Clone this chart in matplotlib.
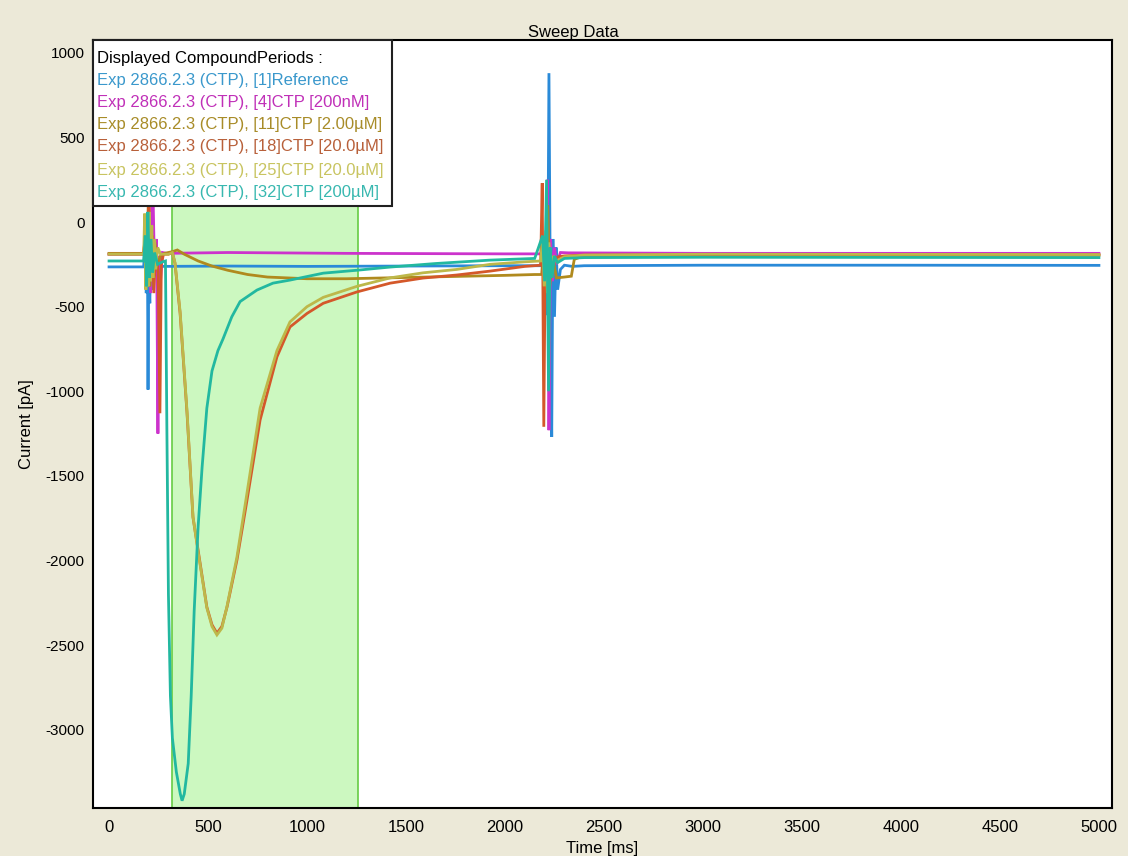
import matplotlib
matplotlib.use("Agg")
import matplotlib.pyplot as plt
from matplotlib.patches import Rectangle
from matplotlib import font_manager

# ---------------- data ----------------
title = "Sweep Data"
x_label = "Time [ms]"
y_label = "Current [pA]"
legend_header = "Displayed CompoundPeriods :"
series_names = [
    "Exp 2866.2.3 (CTP), [1]Reference",
    "Exp 2866.2.3 (CTP), [4]CTP [200nM]",
    "Exp 2866.2.3 (CTP), [11]CTP [2.00\u00b5M]",
    "Exp 2866.2.3 (CTP), [18]CTP [20.0\u00b5M]",
    "Exp 2866.2.3 (CTP), [25]CTP [20.0\u00b5M]",
    "Exp 2866.2.3 (CTP), [32]CTP [200\u00b5M]",
]
x_ticks = [0, 500, 1000, 1500, 2000, 2500, 3000, 3500, 4000, 4500, 5000]
y_ticks = [1000, 500, 0, -500, -1000, -1500, -2000, -2500, -3000]
window_start, window_end = 318, 1258   # highlighted compound period (ms)

t_ref = [0, 175, 182, 188, 194, 197, 200, 206, 212, 218, 224, 232, 240, 250, 262,
         600, 1000, 1500, 2000, 2180, 2192, 2200, 2208, 2215, 2222, 2230, 2236,
         2242, 2250, 2258, 2266, 2280, 2300, 2340, 2400, 3000, 4000, 5000]
i_ref = [-265, -265, -120, -420, -150, -990, -300, -480, -80, -400, -150, -320, -200, -280, -262,
         -260, -262, -260, -258, -258, -150, -420, -80, -550, 880, -620, -1270,
         -100, -560, -150, -400, -280, -255, -262, -258, -255, -255, -256]

t_mag = [0, 175, 185, 192, 200, 210, 220, 230, 240, 247, 252, 260, 270, 290,
         600, 1200, 2000, 2185, 2195, 2205, 2215, 2222, 2230, 2240, 2250, 2260,
         2280, 2320, 3000, 5000]
i_mag = [-190, -190, -60, -350, 150, -420, 300, -300, -100, -1250, -200, -350, -180, -185,
         -180, -185, -188, -188, -120, -300, 250, -1230, -100, -350, -150, -250,
         -180, -182, -185, -185]

t_oli = [0, 175, 184, 190, 198, 206, 214, 222, 232, 244, 260, 280, 320, 345, 380,
         450, 520, 600, 700, 800, 900, 1000, 1200, 1400, 1600, 1800, 2000, 2150,
         2185, 2196, 2206, 2216, 2226, 2240, 2260, 2300, 2335, 2350, 2400, 3000, 4000, 5000]
i_oli = [-185, -185, -60, -330, 100, -380, -50, -300, -120, -250, -200, -185, -175, -165, -190,
         -230, -260, -285, -310, -325, -330, -335, -335, -330, -325, -320, -315, -310,
         -310, -150, -420, 100, -380, -200, -330, -325, -320, -220, -200, -195, -195, -195]

t_red = [0, 175, 185, 193, 201, 210, 218, 226, 236, 248, 257, 264, 275, 300, 320, 333,
         359, 394, 424, 450, 494, 520, 545, 570, 596, 646, 697, 763, 848, 914, 1000,
         1082, 1252, 1420, 1586, 1756, 1924, 2100, 2180, 2188, 2196, 2204, 2214, 2224,
         2236, 2250, 2270, 2300, 2400, 3000, 5000]
i_red = [-190, -190, -40, -380, 200, -320, -80, -420, -150, -300, -1130, -250, -190, -190, -180, -243,
         -540, -1130, -1745, -1940, -2275, -2380, -2430, -2390, -2275, -1998, -1643, -1170, -797, -620, -540,
         -480, -413, -361, -331, -313, -290, -262, -255, 230, -1210, -100, -400, -150,
         -330, -220, -205, -200, -195, -195, -195]

t_kha = [0, 175, 180, 186, 192, 198, 204, 210, 216, 222, 228, 236, 246, 260, 300, 320, 333,
         359, 394, 424, 450, 494, 520, 545, 570, 596, 646, 697, 763, 848, 914, 1000,
         1082, 1252, 1420, 1586, 1756, 1924, 2100, 2180, 2190, 2198, 2206, 2214, 2222,
         2232, 2244, 2260, 2300, 2400, 3000, 5000]
i_kha = [-190, -190, 50, -400, 0, -380, 60, -350, -20, -330, -100, -280, -150, -190, -190, -180, -240,
         -530, -1120, -1740, -1950, -2280, -2390, -2440, -2400, -2270, -1980, -1600, -1100, -760, -590, -500,
         -445, -380, -330, -300, -280, -250, -235, -230, -100, -380, -50, -420, -120,
         -320, -200, -230, -205, -195, -190, -192]

t_tea = [0, 175, 183, 190, 196, 204, 212, 220, 230, 245, 270, 285, 292, 300, 310, 320, 340,
         360, 369, 380, 400, 415, 430, 450, 470, 494, 520, 550, 576, 620, 662, 747, 828,
         914, 1082, 1250, 1420, 1650, 1924, 2150, 2190, 2200, 2210, 2220, 2228, 2238,
         2250, 2265, 2300, 2400, 3000, 5000]
i_tea = [-230, -230, -80, -380, 60, -330, -100, -300, -180, -250, -235, -230, -1200, -2200, -2800, -3050, -3250,
         -3380, -3420, -3380, -3200, -2800, -2300, -1800, -1450, -1100, -880, -760, -690, -560, -470, -402, -361,
         -343, -302, -285, -266, -245, -225, -215, -80, -350, 250, -1000, -150, -330,
         -200, -240, -215, -210, -208, -210]

series_t = [t_ref, t_mag, t_oli, t_red, t_kha, t_tea]
series_i = [i_ref, i_mag, i_oli, i_red, i_kha, i_tea]

# ---------------- style ----------------
colors = ["#2a8ad8", "#cc33cc", "#b08a1e", "#d4582a", "#bdb84a", "#22b8a0"]
text_colors = ["#3a98cc", "#c030b8", "#a88c28", "#b8603a", "#c8c460", "#38b8b0"]

W, H = 1128, 856
fig = plt.figure(figsize=(W / 100, H / 100), dpi=100, facecolor="#ece9d8")

def fx(px):
    return px / W

def fy(py):
    return 1 - py / H

names = {f.name for f in font_manager.fontManager.ttflist}
base_font = "Liberation Sans" if "Liberation Sans" in names else "DejaVu Sans"
narrow_font = "Liberation Sans Narrow" if "Liberation Sans Narrow" in names else base_font

L, R, T, B = 93, 1112, 40, 808
ax = fig.add_axes([fx(L), fy(B), fx(R - L), (B - T) / H])
ax.set_facecolor("white")

ax.axvspan(window_start, window_end, facecolor="#ccf8c0", edgecolor="#66cc44",
           linewidth=1.2, zorder=1)

for t, i, c in zip(series_t, series_i, colors):
    ax.plot(t, i, color=c, linewidth=2.0, zorder=3, solid_joinstyle="miter")

ax.set_xlim(-81, 5066)
ax.set_ylim(-3463, 1076)
ax.set_xticks(x_ticks)
ax.set_yticks(y_ticks)
ax.set_xticklabels([str(v) for v in x_ticks], fontfamily=narrow_font, fontsize=12)
ax.set_yticklabels([str(v) for v in y_ticks], fontfamily=base_font, fontsize=11)
ax.tick_params(axis="both", length=0)
ax.tick_params(axis="y", pad=6)
ax.tick_params(axis="x", pad=9)
for s in ax.spines.values():
    s.set_linewidth(1.5)
    s.set_color("black")

ax.set_xlabel(x_label, fontfamily=narrow_font, fontsize=12)
ax.set_ylabel(y_label, fontfamily=narrow_font, fontsize=12)
ax.xaxis.set_label_coords(0.5, -(848 - B) / (B - T), transform=ax.transAxes)
ax.yaxis.set_label_coords(-(L - 27) / (R - L), 0.5, transform=ax.transAxes)
ax.xaxis.label.set_va("center")
ax.yaxis.label.set_va("center")

fig.text(fx(573), fy(32), title, ha="center", va="center",
         fontfamily=base_font, fontsize=12, color="black")

# legend box
lx0, ly0, lx1, ly1 = 93, 40, 392, 206
ax.add_patch(Rectangle((fx(lx0), fy(ly1)), fx(lx1 - lx0), (ly1 - ly0) / H,
                       transform=fig.transFigure, facecolor="white",
                       edgecolor="#202020", linewidth=1.5, zorder=10, clip_on=False))
line_y = [58, 80, 103, 125, 147, 170, 192]
ax.text(fx(97), fy(line_y[0]), legend_header, transform=fig.transFigure,
        ha="left", va="center", fontfamily=base_font, fontsize=12, color="black", zorder=11)
for k, (name, tc) in enumerate(zip(series_names, text_colors)):
    ax.text(fx(97), fy(line_y[k + 1]), name, transform=fig.transFigure,
            ha="left", va="center", fontfamily=base_font, fontsize=12, color=tc, zorder=11)

fig.savefig("out.png", dpi=100, facecolor=fig.get_facecolor())
